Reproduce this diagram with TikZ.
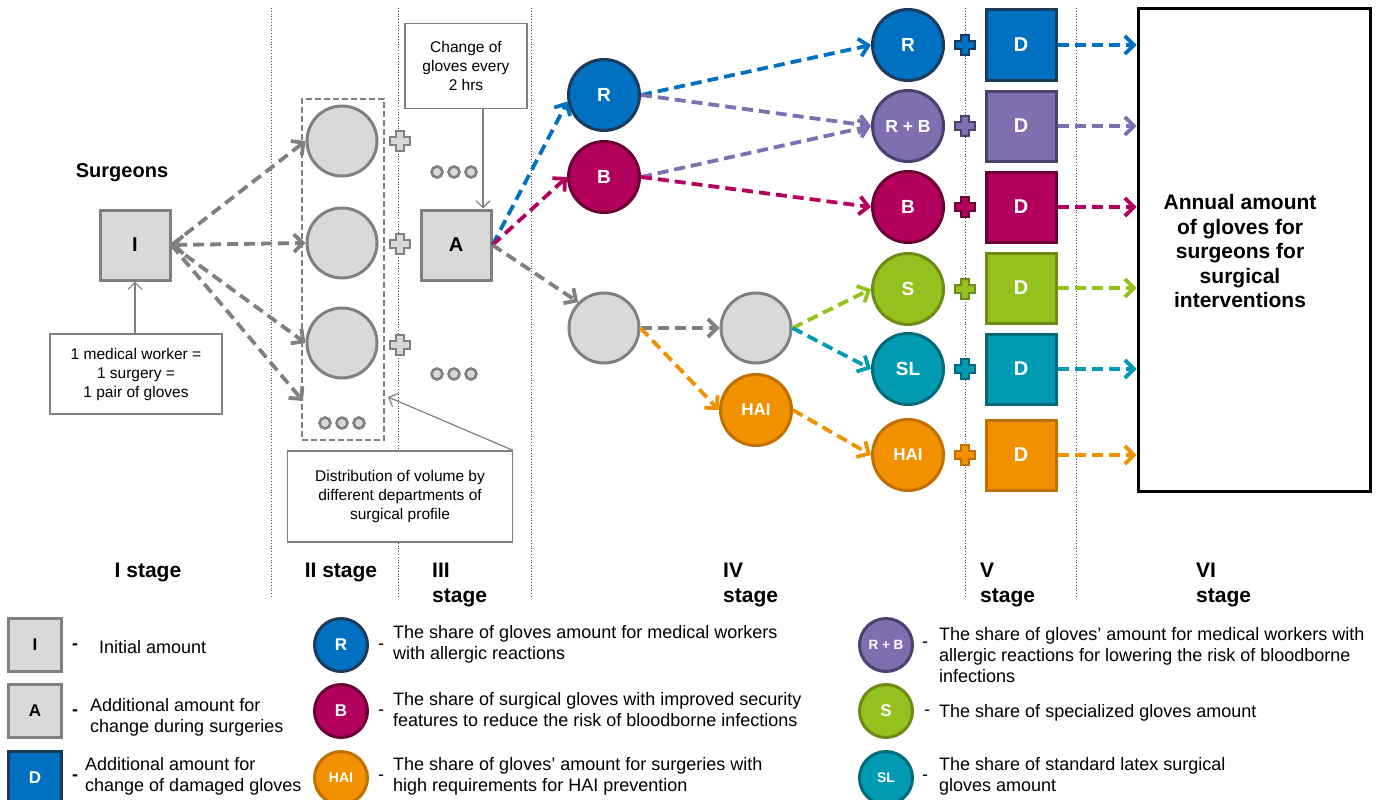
\documentclass[tikz,border=0pt]{standalone}
\usepackage{fontspec}
\setmainfont{Liberation Sans}
\usetikzlibrary{arrows.meta,positioning}

\definecolor{boxgray}{HTML}{D9D9D9}
\definecolor{linegray}{HTML}{808080}
\definecolor{rblue}{HTML}{0070C0}
\definecolor{rbluedk}{HTML}{1B3A5C}
\definecolor{bmag}{HTML}{B3005C}
\definecolor{bmagdk}{HTML}{6B0035}
\definecolor{rbpur}{HTML}{7E6FB1}
\definecolor{rbpurdk}{HTML}{4B406E}
\definecolor{sgreen}{HTML}{95C11F}
\definecolor{sgreendk}{HTML}{6C8C17}
\definecolor{slteal}{HTML}{009BB2}
\definecolor{sltealdk}{HTML}{00697A}
\definecolor{haior}{HTML}{F29100}
\definecolor{haiordk}{HTML}{C07000}

% plus sign between two amounts: position, fill, border
\newcommand{\plusmark}[3]{%
  \draw[draw=#3, fill=#2, line width=1.6pt, shift={#1}]
    (-4,-10) -- (4,-10) -- (4,-4) -- (10,-4) -- (10,4) -- (4,4)
    -- (4,10) -- (-4,10) -- (-4,4) -- (-10,4) -- (-10,-4) -- (-4,-4) -- cycle;}

\begin{document}
\begin{tikzpicture}[
              x=1pt, y=-1pt,
              >={Straight Barb[length=9pt,width=18pt]},
              gsquare/.style={rectangle, draw=linegray, fill=boxgray, line width=3pt,
                minimum size=70pt, inner sep=0pt, font=\fontsize{20}{24}\selectfont\bfseries},
              gcircle/.style={circle, draw=linegray, fill=boxgray, line width=3pt,
                minimum size=70pt, inner sep=0pt},
              ccircle/.style 2 args={circle, draw=#2, fill=#1, line width=3pt, minimum size=71pt,
                inner sep=0pt, text=white, font=\fontsize{19}{22}\selectfont\bfseries},
              csquare/.style 2 args={rectangle, draw=#2, fill=#1, line width=3pt, minimum size=70pt,
                inner sep=0pt, text=white, font=\fontsize{20}{24}\selectfont\bfseries},
              note/.style={draw=linegray, fill=white, line width=1.2pt, align=center, inner sep=0pt,
                font=\fontsize{15.5}{19}\selectfont},
              flow/.style={draw=#1, line width=3.8pt, dash pattern=on 11pt off 6pt, ->},
              pointer/.style={draw=linegray, line width=1.2pt, -{Straight Barb[length=7pt,width=14pt]}},
              sepline/.style={draw=black!70, line width=0.8pt, dotted},
              dotmark/.style={draw=linegray, fill=boxgray, line width=2.6pt},
              stagelbl/.style={inner sep=0pt, align=left, font=\fontsize{21}{25}\selectfont\bfseries},
              legtext/.style={anchor=west, align=left, inner sep=0pt, font=\fontsize{18}{21}\selectfont},
              lsize/.style={minimum size=53pt, font=\fontsize{17}{20}\selectfont\bfseries}
            ]
\useasboundingbox (0,0) rectangle (1378,800);
\clip (0,0) rectangle (1378,800);

% stage separators
\foreach \sx in {271,398,531,965,1076}
  \draw[sepline] (\sx,8) -- (\sx,598);

% Stage I: surgeons
\node[gsquare] (I) at (135,245) {I};
\node[font=\fontsize{20}{24}\selectfont\bfseries] (Surg) at (122,173) {Surgeons};
\node[note, minimum width=172pt, minimum height=80pt] (NoteI) at (136,374)
  {1 medical worker =\\1 surgery =\\1 pair of gloves};
\draw[pointer] (NoteI.north -| I.south) -- (I.south);

% Stage II: departments
\node[draw=linegray, dash pattern=on 6pt off 3pt, line width=1.2pt,
      minimum width=82pt, minimum height=341pt] (Dept) at (343,269.5) {};
\node[gcircle] (C1) at (342,141) {};
\node[gcircle] (C2) at (342,243) {};
\node[gcircle] (C3) at (342,343) {};
\coordinate (C4) at (303,401);
\foreach \dx in {-17,0,17}
  \draw[dotmark] ({342+\dx},423) circle (5.5pt);
\foreach \py in {141,244,345}
  \plusmark{(400,\py)}{boxgray}{linegray}
\node[note, minimum width=225pt, minimum height=91pt] (NoteD) at (400,496.5)
  {Distribution of volume by\\different departments of\\surgical profile};
\coordinate (DeptPt) at (388,397);
\draw[pointer] (NoteD.north east) -- (DeptPt);

% Stage III: change during surgery
\node[gsquare] (A) at (456,245) {A};
\node[note, minimum width=122pt, minimum height=85pt] (NoteA) at (466,66)
  {Change of\\gloves every\\2 hrs};
\draw[pointer] ([xshift=17pt]NoteA.south) -- ([xshift=27pt]A.north);
\foreach \dy in {172,374}
  \foreach \dx in {-17,0,17}
    \draw[dotmark] ({454+\dx},\dy) circle (5.5pt);

% Stage IV: glove types
\node[ccircle={rblue}{rbluedk}] (R1) at (604,95) {R};
\node[ccircle={bmag}{bmagdk}] (B1) at (604,177) {B};
\node[gcircle] (G1) at (604,328) {};
\node[gcircle] (G2) at (756,328) {};
\node[ccircle={haior}{haiordk}, font=\fontsize{17}{20}\selectfont\bfseries] (HAI1) at (756,410) {HAI};

% Stage V: types plus damaged gloves
\node[ccircle={rblue}{rbluedk}] (R2) at (908,45) {R};
\node[ccircle={rbpur}{rbpurdk}, font=\fontsize{17.5}{20}\selectfont\bfseries] (RB) at (908,126) {R + B};
\node[ccircle={bmag}{bmagdk}] (B2) at (908,207) {B};
\node[ccircle={sgreen}{sgreendk}] (S) at (908,289) {S};
\node[ccircle={slteal}{sltealdk}] (SL) at (908,369) {SL};
\node[ccircle={haior}{haiordk}, font=\fontsize{17}{20}\selectfont\bfseries] (HAI2) at (908,455) {HAI};

\node[csquare={rblue}{rbluedk}] (D1) at (1021,45) {D};
\node[csquare={rbpur}{rbpurdk}] (D2) at (1021,126) {D};
\node[csquare={bmag}{bmagdk}] (D3) at (1021,207) {D};
\node[csquare={sgreen}{sgreendk}] (D4) at (1021,288) {D};
\node[csquare={slteal}{sltealdk}] (D5) at (1021,369) {D};
\node[csquare={haior}{haiordk}] (D6) at (1021,455) {D};

\plusmark{(965,45)}{rblue}{rbluedk}
\plusmark{(965,126)}{rbpur}{rbpurdk}
\plusmark{(965,207)}{bmag}{bmagdk}
\plusmark{(965,289)}{sgreen}{sgreendk}
\plusmark{(965,369)}{slteal}{sltealdk}
\plusmark{(965,455)}{haior}{haiordk}

% Stage VI: annual amount
\node[draw=black, line width=3pt, minimum width=232pt, minimum height=482pt] (Total) at (1254,250) {};
\node[align=center, inner sep=0pt, font=\fontsize{21}{24.5}\selectfont\bfseries] (TotalTxt) at (1240,251)
  {Annual amount\\of gloves for\\surgeons for\\surgical\\interventions};

% connectors
\draw[flow=linegray] (I.east) -- (C1.west);
\draw[flow=linegray, <->] (I.east) -- (C2.west);
\draw[flow=linegray] (I.east) -- (C3.west);
\draw[flow=linegray] (I.east) -- (C4);
\draw[flow=rblue] (A.east) -- (R1.190);
\draw[flow=bmag] (A.east) -- (B1.west);
\draw[flow=linegray] (A.east) -- (G1.north west);
\draw[flow=linegray] (G1.east) -- (G2.west);
\draw[flow=haior] (G1.east) -- (HAI1.west);
\draw[flow=sgreen] (G2.east) -- (S.west);
\draw[flow=slteal] (G2.east) -- (SL.west);
\draw[flow=haior] (HAI1.east) -- (HAI2.west);
\draw[flow=rblue] (R1.east) -- (R2.west);
\draw[flow=rbpur] (R1.east) -- (RB.west);
\draw[flow=rbpur] (B1.east) -- (RB.west);
\draw[flow=bmag] (B1.east) -- (B2.west);
\foreach \d/\c in {D1/rblue, D2/rbpur, D3/bmag, D4/sgreen, D5/slteal, D6/haior}
  \draw[flow=\c] (\d.east) -- (\d.east -| Total.west);

% stage labels
\node[stagelbl] (St1) at (148,572) {I stage};
\node[stagelbl] (St2) at (341,572) {II stage};
\node[stagelbl, anchor=west] (St3) at (432,584.5) {III\\stage};
\node[stagelbl, anchor=west] (St4) at (723,584.5) {IV\\stage};
\node[stagelbl, anchor=west] (St5) at (980,584.5) {V\\stage};
\node[stagelbl, anchor=west] (St6) at (1196,584.5) {VI\\stage};

% legend
\node[gsquare, lsize] (LI) at (35,645) {I};
\node[gsquare, lsize] (LA) at (35,711) {A};
\node[csquare={rblue}{rbluedk}, lsize] (LD) at (35,778) {D};
\node[legtext, font=\fontsize{18}{21}\selectfont\bfseries] at (72,647) {-};
\node[legtext, font=\fontsize{18}{21}\selectfont\bfseries] at (72,713) {-};
\node[legtext, font=\fontsize{18}{21}\selectfont\bfseries] at (72,778) {-};
\node[legtext] (TI) at (99,647) {Initial amount};
\node[legtext] (TA) at (90,717) {Additional amount for\\change during surgeries};
\node[legtext] (TD) at (85,776) {Additional amount for\\change of damaged gloves};

\node[ccircle={rblue}{rbluedk}, lsize] (LR) at (341,645) {R};
\node[ccircle={bmag}{bmagdk}, lsize] (LB) at (341,711) {B};
\node[ccircle={haior}{haiordk}, lsize, font=\fontsize{14}{16}\selectfont\bfseries] (LHAI) at (341,778) {HAI};
\node[legtext] at (378,647) {-};
\node[legtext] at (378,713) {-};
\node[legtext] at (378,778) {-};
\node[legtext] (TR) at (393,644) {The share of gloves amount for medical workers\\with allergic reactions};
\node[legtext] (TB) at (393,710) {The share of surgical gloves with improved security\\features to reduce the risk of bloodborne infections};
\node[legtext] (THAI) at (393,776) {The share of gloves’ amount for surgeries with\\high requirements for HAI prevention};

\node[ccircle={rbpur}{rbpurdk}, lsize, font=\fontsize{13.5}{16}\selectfont\bfseries] (LRB) at (886,645) {R + B};
\node[ccircle={sgreen}{sgreendk}, lsize] (LS) at (886,711) {S};
\node[ccircle={slteal}{sltealdk}, lsize, font=\fontsize{14}{16}\selectfont\bfseries] (LSL) at (886,778) {SL};
\node[legtext] at (922,645) {-};
\node[legtext] at (924,713) {-};
\node[legtext] at (922,778) {-};
\node[legtext] (TRB) at (939,655) {The share of gloves’ amount for medical workers with\\allergic reactions for lowering the risk of bloodborne\\infections};
\node[legtext] (TS) at (939,713) {The share of specialized gloves amount};
\node[legtext] (TSL) at (939,776) {The share of standard latex surgical\\gloves amount};

\end{tikzpicture}
\end{document}
